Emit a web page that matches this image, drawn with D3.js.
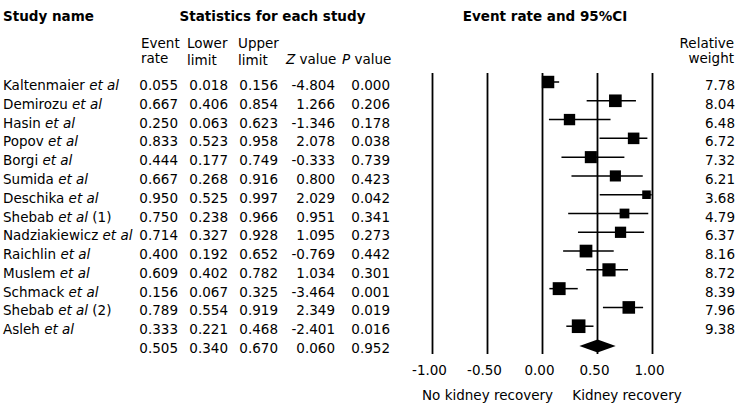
<!DOCTYPE html>
<html><head><meta charset="utf-8">
<script src="https://cdn.jsdelivr.net/npm/d3@7"></script>
<style>body{margin:0;background:#fff}svg{display:block}text{font-family:"DejaVu Sans",Verdana,sans-serif;fill:#000}</style>
</head><body><svg id="c" width="748" height="406"></svg>
<script>
const studies = ["Kaltenmaier","Demirozu","Hasin","Popov","Borgi","Sumida","Deschika","Shebab","Nadziakiewicz","Raichlin","Muslem","Schmack","Shebab","Asleh"];
const suffix = ["","","","","","","","(1)","","","","","(2)",""];
const eventRate = [0.055,0.667,0.250,0.833,0.444,0.667,0.950,0.750,0.714,0.400,0.609,0.156,0.789,0.333];
const lowerLimit = [0.018,0.406,0.063,0.523,0.177,0.268,0.525,0.238,0.327,0.192,0.402,0.067,0.554,0.221];
const upperLimit = [0.156,0.854,0.623,0.958,0.749,0.916,0.997,0.966,0.928,0.652,0.782,0.325,0.919,0.468];
const zValue = [-4.804,1.266,-1.346,2.078,-0.333,0.800,2.029,0.951,1.095,-0.769,1.034,-3.464,2.349,-2.401];
const pValue = [0.000,0.206,0.178,0.038,0.739,0.423,0.042,0.341,0.273,0.442,0.301,0.001,0.019,0.016];
const weight = [7.78,8.04,6.48,6.72,7.32,6.21,3.68,4.79,6.37,8.16,8.72,8.39,7.96,9.38];
const summary = {rate:0.505, lower:0.340, upper:0.670, z:0.060, p:0.952};
const ticks = [-1.00,-0.50,0.00,0.50,1.00];

const svg = d3.select("#c");
const fs = 13.5;
const nRows = studies.length + 1;
const y = d3.scaleLinear().domain([0, nRows-1]).range([82, 345]);
const x = d3.scaleLinear().domain([-1, 1]).range([432, 652]);
const sz = d3.scaleSqrt().domain([0, 10]).range([0, 14.1]);
const loc = d3.formatLocale({decimal:".", thousands:",", grouping:[3], currency:["$",""], minus:"-"});
const f3 = loc.format(".3f"), f2 = loc.format(".2f");

// headers
svg.append("text").attr("x",3).attr("y",21).attr("font-weight","bold").attr("font-size",fs).text("Study name");
svg.append("text").attr("x",272.5).attr("y",21).attr("text-anchor","middle").attr("font-weight","bold").attr("font-size",fs).text("Statistics for each study");
svg.append("text").attr("x",545).attr("y",21).attr("text-anchor","middle").attr("font-weight","bold").attr("font-size",fs).text("Event rate and 95%CI");

const sub = [
  {x:141, l1:"Event", l2:"rate", b2:63},
  {x:187, l1:"Lower", l2:"limit", b2:65},
  {x:238, l1:"Upper", l2:"limit", b2:65}
];
sub.forEach(s=>{
  svg.append("text").attr("x",s.x).attr("y",48).attr("font-size",fs).text(s.l1);
  svg.append("text").attr("x",s.x).attr("y",s.b2).attr("font-size",fs).text(s.l2);
});
const zt = svg.append("text").attr("x",286).attr("y",64).attr("font-size",fs);
zt.append("tspan").attr("font-style","italic").text("Z");
zt.append("tspan").text(" value");
const pt = svg.append("text").attr("x",342).attr("y",64).attr("font-size",fs);
pt.append("tspan").attr("font-style","italic").text("P");
pt.append("tspan").text(" value");
svg.append("text").attr("x",734).attr("y",48).attr("text-anchor","end").attr("font-size",fs).text("Relative");
svg.append("text").attr("x",734).attr("y",63).attr("text-anchor","end").attr("font-size",fs).text("weight");

// axis with full-height grid lines
const axisG = svg.append("g").attr("transform","translate(0,354)")
  .call(d3.axisBottom(x).tickValues(ticks).tickFormat(f2).tickSizeInner(-281).tickSizeOuter(0).tickPadding(11));
axisG.select(".domain").remove();
axisG.selectAll("line").attr("stroke","#000").attr("stroke-width",1.8);
axisG.selectAll("text").attr("font-size",fs).attr("font-family","DejaVu Sans, Verdana, sans-serif").attr("fill","#000").attr("dx",-3);

svg.append("text").attr("x",487.5).attr("y",400).attr("text-anchor","middle").attr("font-size",fs).text("No kidney recovery");
svg.append("text").attr("x",627).attr("y",400).attr("text-anchor","middle").attr("font-size",fs).text("Kidney recovery");

// clip for plot area
svg.append("clipPath").attr("id","pc").append("rect").attr("x",x(-1)).attr("y",60).attr("width",x(1)-x(-1)+1).attr("height",300);

const cols = [
  {arr:eventRate, x:178, f:f3},
  {arr:lowerLimit, x:228, f:f3},
  {arr:upperLimit, x:278, f:f3},
  {arr:zValue, x:335, f:f3},
  {arr:pValue, x:390, f:f3},
  {arr:weight, x:735, f:f2}
];

const plot = svg.append("g").attr("clip-path","url(#pc)");

studies.forEach((s,i)=>{
  const yy = y(i);
  const t = svg.append("text").attr("x",3).attr("y",yy+8).attr("font-size",fs);
  t.append("tspan").text(s+" ");
  t.append("tspan").attr("font-style","italic").text("et al");
  if (suffix[i]) t.append("tspan").text(" "+suffix[i]);
  cols.forEach(c=>{
    svg.append("text").attr("x",c.x).attr("y",yy+8).attr("text-anchor","end").attr("font-size",fs).text(c.f(c.arr[i]));
  });
  plot.append("line").attr("x1",x(lowerLimit[i])).attr("x2",x(upperLimit[i])).attr("y1",yy).attr("y2",yy).attr("stroke","#000").attr("stroke-width",1.5);
  const w = sz(weight[i]);
  plot.append("rect").attr("x",x(eventRate[i])-w/2).attr("y",yy-w/2).attr("width",w).attr("height",w).attr("fill","#000");
});

// summary
const ys = y(nRows-1);
[summary.rate, summary.lower, summary.upper, summary.z, summary.p].forEach((v,k)=>{
  svg.append("text").attr("x",cols[k].x).attr("y",ys+8).attr("text-anchor","end").attr("font-size",fs).text(f3(v));
});
svg.append("path").attr("d",`M${x(summary.lower)},${ys+1}L${x(summary.rate)},${ys-5.5}L${x(summary.upper)},${ys+1}L${x(summary.rate)},${ys+7.5}Z`).attr("fill","#000");
</script></body></html>
